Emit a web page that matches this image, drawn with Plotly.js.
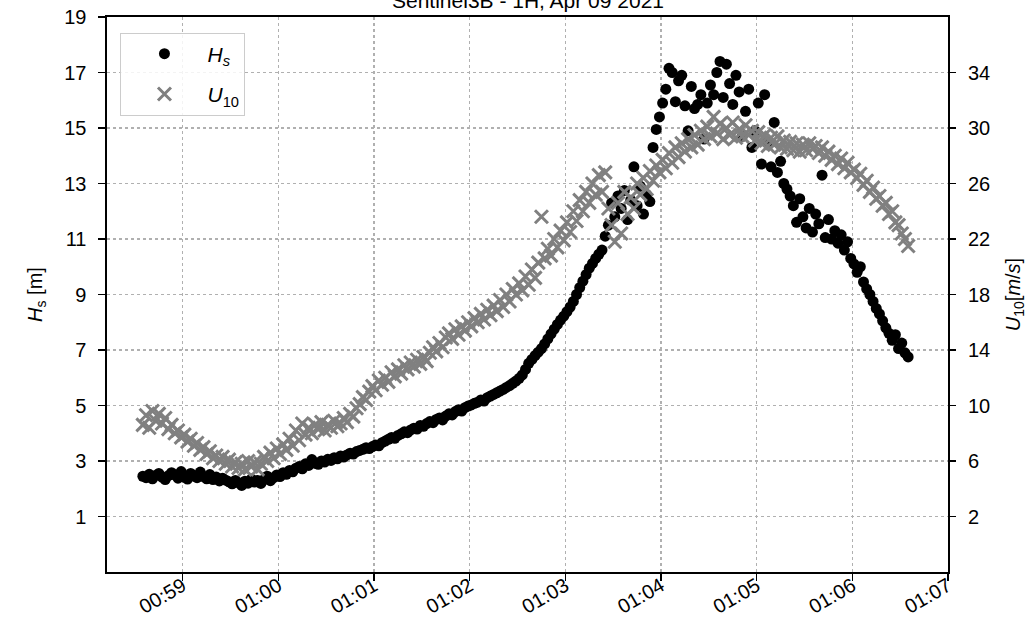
<!DOCTYPE html>
<html>
<head>
<meta charset="utf-8">
<script src="https://cdn.plot.ly/plotly-3.0.1.min.js"></script>
<style>html,body{margin:0;padding:0;background:#fff;}#chart{width:1036px;height:621px;}</style>
</head>
<body>
<div id="chart"></div>
<script>
// seconds after 00:58:00 on 2021-04-09
const seconds = [35,37,39,41,43,45,47,49,51,53,55,57,59,
61,63,65,67,69,71,73,75,77,79,81,83,85,87,89,
91,93,95,97,99,101,103,105,107,109,111,113,115,117,119,
121,123,125,127,129,131,133,135,137,139,141,143,145,147,149,
151,153,155,157,159,161,163,165,167,169,171,173,175,177,179,
181,183,185,187,189,191,193,195,197,199,201,203,205,207,209,
211,213,215,217,219,221,223,225,227,229,231,233,235,237,239,
241,243,245,247,249,251,253,255,257,259,261,263,265,267,269,
271,273,275,277,279,281,283,285,287,289,291,293,295,297,299,
301,303,305,307,309,311,313,315,317,319,321,323,325,327,329,
331,333,335,337,339,341,343,345,347,349,351,353,355,357,359,
361,363,365,367,369,371,373,375,377,379,381,383,385,387,389,
391,393,395,397,399,401,403,405,407,409,411,413,415,417,419,
421,423,425,427,429,431,433,435,437,439,441,443,445,447,449,
451,453,455,457,459,461,463,465,467,469,471,473,475,477,479,
481,483,485,487,489,491,493,495,497,499,501,503,505,507,509,511,513,515];

// significant wave height [m]
const hs = [2.45,2.40,2.52,2.36,2.48,2.55,2.42,2.33,2.47,2.58,2.50,2.38,2.62,
2.41,2.35,2.55,2.46,2.40,2.60,2.44,2.36,2.51,2.33,2.42,2.28,2.38,2.31,2.25,
2.18,2.30,2.22,2.12,2.27,2.20,2.35,2.24,2.30,2.19,2.33,2.45,2.29,2.40,2.50,
2.44,2.58,2.52,2.66,2.61,2.74,2.80,2.72,2.90,2.84,3.05,2.92,2.88,3.00,2.96,
3.06,3.02,3.12,3.08,3.18,3.14,3.22,3.28,3.25,3.34,3.38,3.42,3.48,3.45,3.52,
3.58,3.55,3.66,3.72,3.78,3.85,3.82,3.92,3.98,4.05,4.02,4.12,4.18,4.15,4.28,
4.25,4.35,4.42,4.38,4.50,4.55,4.48,4.62,4.70,4.66,4.78,4.85,4.80,4.92,4.98,
5.02,5.08,5.12,5.20,5.16,5.28,5.34,5.40,5.46,5.52,5.58,5.65,5.72,5.80,5.88,
5.98,6.10,6.30,6.52,6.66,6.80,6.92,7.05,7.22,7.40,7.58,7.75,7.92,8.08,8.22,
8.38,8.55,8.75,9.00,9.25,9.48,9.72,9.95,10.12,10.30,10.45,10.60,11.10,11.50,12.30,
11.80,12.55,12.10,12.75,11.70,12.40,13.60,12.20,12.90,11.90,12.60,12.35,14.30,14.95,15.40,
15.90,16.40,17.15,17.00,15.95,16.70,16.90,15.80,14.90,16.50,15.70,15.85,16.20,14.60,15.90,
16.55,16.20,17.00,17.40,16.10,17.30,16.60,15.85,16.90,16.30,14.70,15.60,16.40,14.30,14.90,
15.90,13.70,16.20,14.50,13.60,15.20,13.40,13.80,13.00,12.80,12.55,12.20,11.60,12.45,11.80,
11.40,12.10,11.25,11.90,11.55,13.30,11.05,11.70,11.00,11.30,10.85,11.15,10.60,10.90,10.30,
10.10,9.80,10.00,9.45,9.20,9.00,8.75,8.50,8.30,8.05,7.80,7.60,7.35,7.55,7.05,7.25,6.90,6.75];

// 10 m wind speed [m/s]
const u10 = [8.6,9.3,8.4,9.6,8.9,9.4,8.7,9.1,8.3,8.6,8.0,8.2,7.7,
7.9,7.4,7.6,7.1,7.3,6.8,7.0,6.5,6.7,6.2,6.4,6.0,6.3,5.8,6.1,
5.6,5.9,5.5,5.8,5.4,6.0,5.6,5.9,5.4,5.8,6.3,6.0,6.6,6.2,6.9,
6.5,7.2,6.8,7.6,7.1,8.2,7.5,8.7,7.9,8.4,8.0,8.6,8.3,8.8,8.2,
8.6,8.4,8.9,8.5,8.7,9.1,8.8,9.4,9.2,9.8,10.1,10.6,10.4,11.0,11.4,
11.1,11.8,11.5,12.0,11.7,12.4,12.1,12.6,12.3,12.9,12.6,13.1,12.8,13.3,13.0,
13.5,13.2,13.8,14.2,13.9,14.5,14.2,14.9,15.2,14.8,15.5,15.1,15.7,15.4,16.0,
15.7,16.3,16.0,16.6,16.2,16.9,16.5,17.2,16.8,17.6,17.1,18.0,17.5,18.4,18.0,
18.8,18.3,19.3,18.7,19.8,19.2,20.3,23.6,20.6,21.3,20.8,22.0,21.4,22.6,21.9,
23.2,22.5,24.0,23.3,24.8,24.0,25.4,24.6,26.0,25.2,26.6,25.4,26.8,24.2,23.0,
21.8,24.6,22.4,25.4,23.8,25.0,24.2,26.0,25.2,26.4,25.6,26.9,26.2,27.3,26.8,
27.7,27.1,28.2,27.5,28.6,27.9,28.9,28.3,29.2,28.6,29.5,28.8,29.8,29.2,30.1,
29.4,30.8,29.6,30.3,29.2,30.0,29.5,30.4,29.3,29.9,29.4,30.2,29.5,29.8,29.1,
29.7,28.9,29.5,28.7,29.3,28.8,29.4,28.6,29.1,28.5,29.0,28.4,28.9,28.3,28.8,
28.4,28.9,28.5,28.7,28.2,28.6,28.0,28.3,27.7,28.0,27.4,27.8,27.1,27.5,26.8,
27.0,26.4,26.7,25.9,26.2,25.4,25.7,24.9,25.1,24.4,24.6,23.8,24.0,23.2,23.0,22.4,22.0,21.5];

const hsTicks = [1,3,5,7,9,11,13,15,17,19];
const uTicks = [2,6,10,14,18,22,26,30,34];

const titleText = 'Sentinel3B - 1H, Apr 09 2021';
const hsName = '<i>H</i><sub><i>s</i></sub>';
const uName = '<i>U</i><sub>10</sub>';

function toTime(s) {
  const d = new Date(Date.UTC(2021, 3, 9, 0, 58, 0) + s * 1000);
  const p = n => String(n).padStart(2, '0');
  return '2021-04-09 ' + p(d.getUTCHours()) + ':' + p(d.getUTCMinutes()) + ':' + p(d.getUTCSeconds());
}
const times = seconds.map(toTime);

const FONT = '"Liberation Sans", Arial, Helvetica, sans-serif';

const traces = [
  {
    x: times, y: hs, type: 'scatter', mode: 'markers', name: hsName,
    legendgroup: 'a',
    marker: {symbol: 'circle', size: 11, color: '#000000'},
    yaxis: 'y'
  },
  {
    x: times, y: u10, type: 'scatter', mode: 'markers', name: uName,
    legendgroup: 'b',
    marker: {symbol: 'x-thin', size: 13, color: '#808080', line: {color: '#808080', width: 3}},
    yaxis: 'y2'
  }
];

const layout = {
  width: 1036, height: 621,
  paper_bgcolor: '#ffffff', plot_bgcolor: '#ffffff',
  margin: {l: 107, r: 88, t: 17, b: 49},
  font: {family: FONT, size: 20, color: '#000000'},
  annotations: [{
    text: titleText, xref: 'paper', yref: 'paper', x: 0.5, y: 1,
    xanchor: 'center', yanchor: 'bottom', yshift: 4, showarrow: false,
    borderpad: 0, font: {size: 21, family: FONT, color: '#000'}
  }],
  showlegend: true,
  legend: {
    x: 0.016, y: 0.972, xanchor: 'left', yanchor: 'top',
    bgcolor: 'rgba(255,255,255,0.85)', bordercolor: '#cccccc', borderwidth: 1,
    font: {size: 21, family: FONT}, tracegroupgap: 10, traceorder: 'grouped',
    itemwidth: 76
  },
  xaxis: {
    type: 'date',
    range: ['2021-04-09 00:58:12.5', '2021-04-09 01:07:00'],
    tick0: '2021-04-09 00:59:00', dtick: 60000, tickformat: '%H:%M',
    tickangle: -30,
    ticks: 'outside', ticklen: 7, tickwidth: 1.3, tickcolor: '#000',
    ticklabelstandoff: -14,
    showgrid: true, gridcolor: '#b0b0b0', griddash: 'dot', gridwidth: 1.3,
    showline: true, linecolor: '#000', linewidth: 1.6, mirror: true,
    zeroline: false,
    tickfont: {size: 20, family: FONT}
  },
  yaxis: {
    range: [-1, 19], tickmode: 'array', tickvals: hsTicks,
    ticks: 'outside', ticklen: 7, tickwidth: 1.3, tickcolor: '#000',
    ticklabelstandoff: 8,
    showgrid: true, gridcolor: '#b0b0b0', griddash: 'dot', gridwidth: 1.3,
    showline: true, linecolor: '#000', linewidth: 1.6, mirror: true,
    zeroline: false,
    title: {text: '<i>H</i><sub>s</sub> [m]', font: {size: 20, family: FONT}, standoff: 16},
    tickfont: {size: 20, family: FONT}
  },
  yaxis2: {
    overlaying: 'y', side: 'right',
    range: [-2, 38], tickmode: 'array', tickvals: uTicks,
    ticks: 'outside', ticklen: 7, tickwidth: 1.3, tickcolor: '#000',
    ticklabelstandoff: 8,
    showgrid: false, zeroline: false, showline: false,
    title: {text: '<i>U</i><sub>10</sub>[<i>m</i>/<i>s</i>]', font: {size: 20, family: FONT}, standoff: 16},
    tickfont: {size: 20, family: FONT}
  }
};

Plotly.newPlot('chart', traces, layout, {displayModeBar: false, staticPlot: true});
</script>
</body>
</html>
